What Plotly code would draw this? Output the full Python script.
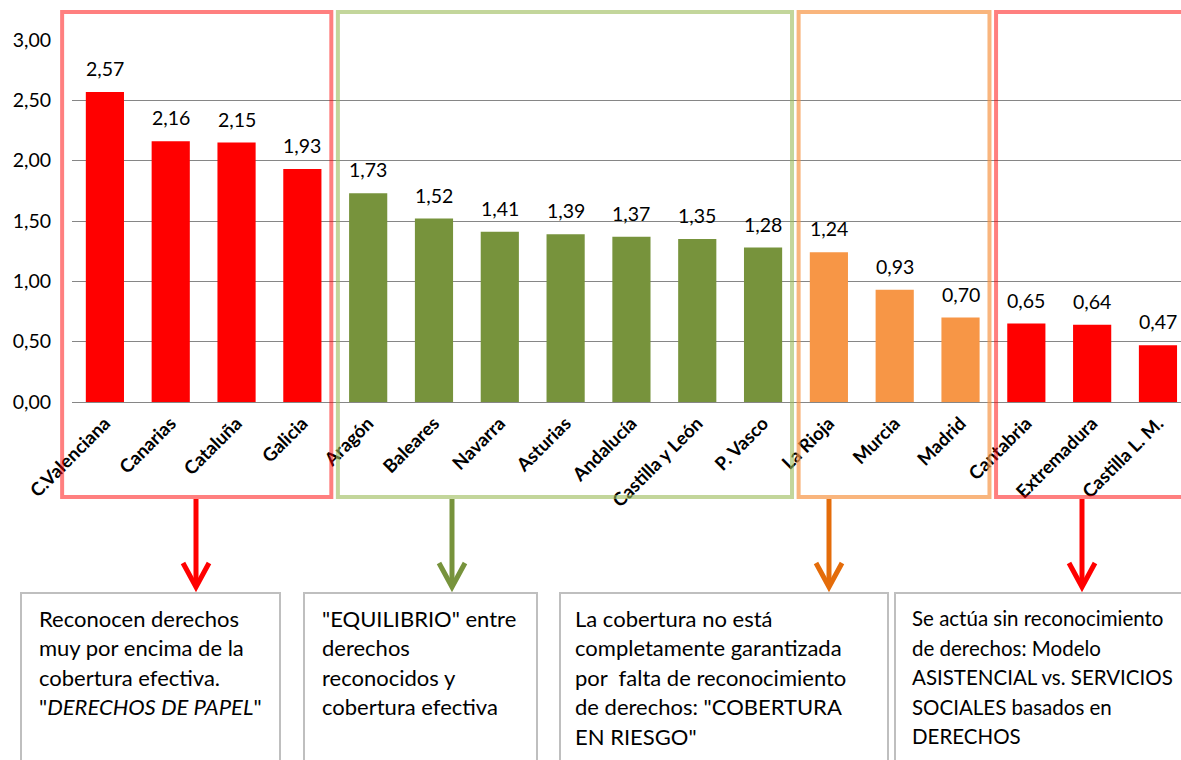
import plotly.graph_objects as go

# ---------------- data ----------------
categories = ["C.Valenciana", "Canarias", "Cataluña", "Galicia", "Aragón", "Baleares",
              "Navarra", "Asturias", "Andalucía", "Castilla y León", "P. Vasco",
              "La Rioja", "Murcia", "Madrid", "Cantabria", "Extremadura", "Castilla L. M."]
values = [2.57, 2.16, 2.15, 1.93, 1.73, 1.52, 1.41, 1.39, 1.37, 1.35, 1.28,
          1.24, 0.93, 0.70, 0.65, 0.64, 0.47]
groups = [0, 0, 0, 0, 1, 1, 1, 1, 1, 1, 1, 2, 2, 2, 3, 3, 3]

group_texts = [
    ["Reconocen derechos", "muy por encima de la", "cobertura efectiva.",
     "\"<i>DERECHOS DE PAPEL</i>\""],
    ["\"EQUILIBRIO\" entre", "derechos", "reconocidos y", "cobertura efectiva"],
    ["La cobertura no está", "completamente garantizada",
     "por&nbsp; falta de reconocimiento", "de derechos: \"COBERTURA", "EN RIESGO\""],
    ["Se actúa sin reconocimiento", "de derechos: Modelo",
     "ASISTENCIAL vs. SERVICIOS", "SOCIALES basados en", "DERECHOS"],
]

# ---------------- style ----------------
W, H = 1181, 760
bar_colors = ["#FF0000", "#77933C", "#F79646", "#FF0000"]
box_colors = ["rgba(255,0,0,0.5)", "rgba(155,187,89,0.6)",
              "rgba(247,150,70,0.7)", "rgba(255,0,0,0.5)"]
arrow_colors = ["#FF0000", "#77933C", "#E46C0A", "#FF0000"]
FONT = "Lato"
X_RANGE = [-0.5, 16.35]
PLOT_LEFT = 72

def X(px):
    return px / W

def Y(py):
    return 1 - py / H

def cat_to_paper(c):
    d0 = X(PLOT_LEFT)
    return d0 + (c - X_RANGE[0]) / (X_RANGE[1] - X_RANGE[0]) * (1 - d0)

fig = go.Figure()
fig.add_trace(go.Bar(
    x=categories, y=values,
    marker=dict(color=[bar_colors[g] for g in groups], line=dict(width=0)),
    width=0.58, showlegend=False, hoverinfo="x+y",
))

annotations = []
for c, v in zip(categories, values):
    annotations.append(dict(
        x=c, y=v, xref="x", yref="y", text=f"{v:.2f}".replace(".", ","),
        showarrow=False, yanchor="bottom", yshift=10,
        font=dict(family=FONT, size=19.5, color="#000000"),
    ))

shapes = []
# group boxes around the categories of each group
for g in range(4):
    idx = [i for i, gg in enumerate(groups) if gg == g]
    x0 = idx[0] - (0.65 if g == 0 else 0.46)
    x1 = idx[-1] + 0.44
    shapes.append(dict(type="rect", xref="paper", yref="paper",
                       x0=cat_to_paper(x0), x1=cat_to_paper(x1), y0=Y(497), y1=Y(12),
                       line=dict(color=box_colors[g], width=4),
                       fillcolor="rgba(0,0,0,0)", layer="above"))

# arrows
arrow_x = [196, 452, 829, 1082]
for g, ax in enumerate(arrow_x):
    shapes.append(dict(type="line", xref="paper", yref="paper",
                       x0=X(ax), x1=X(ax), y0=Y(499), y1=Y(586),
                       line=dict(color=arrow_colors[g], width=5)))
    shapes.append(dict(type="path", xref="paper", yref="paper",
                       path=f"M {X(ax-13)},{Y(563)} L {X(ax)},{Y(587)} L {X(ax+13)},{Y(563)}",
                       line=dict(color=arrow_colors[g], width=5)))

# text boxes
text_boxes = [(21, 280), (304, 537), (560, 888), (895, 1200)]
text_left = [37, 320, 573, 910]
text_size = [22, 22, 22, 20.5]
for g, (bx0, bx1) in enumerate(text_boxes):
    shapes.append(dict(type="rect", xref="paper", yref="paper",
                       x0=X(bx0), x1=X(bx1), y0=Y(780), y1=Y(593),
                       line=dict(color="#BFBFBF", width=2),
                       fillcolor="rgba(0,0,0,0)"))
    for k, line in enumerate(group_texts[g]):
        annotations.append(dict(
            x=X(text_left[g]), y=Y(618 + 29.5 * k), xref="paper", yref="paper",
            text=line, showarrow=False, xanchor="left", yanchor="middle",
            font=dict(family=FONT, size=text_size[g], color="#000000"),
        ))

fig.update_layout(
    width=W, height=H, margin=dict(l=0, r=0, t=0, b=0, pad=0),
    template="none", paper_bgcolor="white", plot_bgcolor="white",
    separators=",.", bargap=0.42,
    xaxis=dict(domain=[X(PLOT_LEFT), 1], range=X_RANGE, tickangle=-45,
               showgrid=False, showline=False, zeroline=False, ticks="",
               ticklabelstandoff=6,
               tickfont=dict(family=FONT, size=18.5, color="#000000", weight="bold"),
               automargin=False, fixedrange=True),
    yaxis=dict(domain=[Y(402), Y(40)], range=[0, 3], dtick=0.5, tickformat=".2f",
               showgrid=True, gridcolor="#868686", gridwidth=1.3,
               zeroline=True, zerolinecolor="#868686", zerolinewidth=1.3,
               showline=False, ticks="", ticklabelstandoff=20,
               tickfont=dict(family=FONT, size=19.5, color="#000000"),
               automargin=False, fixedrange=True),
    shapes=shapes, annotations=annotations,
)

fig.write_html("out.html", config={"displayModeBar": False},
               post_script="document.body.style.margin='0';document.body.style.overflow='hidden';")
